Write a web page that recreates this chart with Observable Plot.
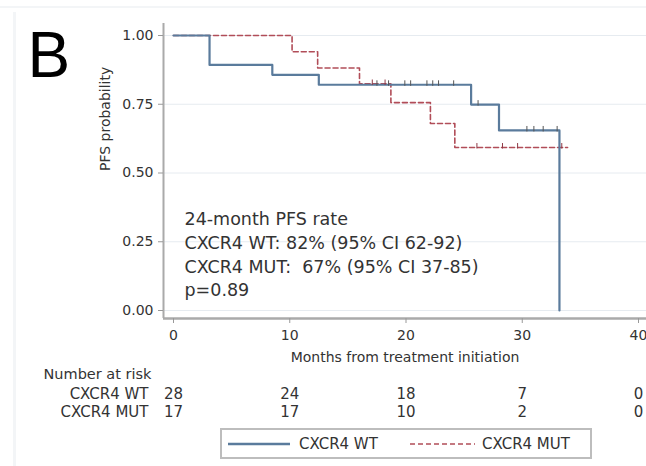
<!DOCTYPE html>
<html>
<head>
<meta charset="utf-8">
<script src="https://cdn.jsdelivr.net/npm/d3@7"></script>
<script src="https://cdn.jsdelivr.net/npm/@observablehq/plot@0.6"></script>
<style>
  html, body { margin: 0; padding: 0; background: #fff; overflow: hidden; }
  #wrap { position: relative; width: 646px; height: 466px; font-family: "DejaVu Sans", sans-serif; color: #333; overflow: hidden; }
  #frameTop { position: absolute; left: 0; top: 6px; width: 646px; height: 0; border-top: 2px solid #f3f5f7; }
  #frameLeft { position: absolute; left: 13px; top: 12px; width: 0; height: 454px; border-left: 3px solid #f3f5f7; }
  #main { position: absolute; left: 0; top: 0; }
  #risk { position: absolute; left: 0; top: 365px; }
  #legend { position: absolute; left: 220px; top: 428px; width: 368px; height: 27px; border: 2px solid #bdbdbd; background: #fff; }
  #legend svg { position: absolute; left: 0; top: 0; }
  #legend span { position: absolute; top: 5px; font-size: 15px; line-height: 18px; color: #333; white-space: nowrap; }
</style>
</head>
<body>
<div id="wrap">
  <div id="frameTop"></div>
  <div id="frameLeft"></div>
  <div id="main"></div>
  <div id="risk"></div>
  <div id="legend"></div>
</div>
<script>
// ---- data ----
const groups = ["CXCR4 WT", "CXCR4 MUT"];
const xTicks = [0, 10, 20, 30, 40];
const yTicks = [0, 0.25, 0.5, 0.75, 1];

// Kaplan-Meier step points (time in months, PFS probability after the step)
const wtTimes = [0, 3.1, 8.5, 12.5, 25.6, 28.0, 33.2];
const wtSurv  = [1, 0.893, 0.857, 0.821, 0.749, 0.655, 0];
const mutTimes = [0, 10.2, 12.4, 16.0, 18.7, 22.1, 24.2, 33.9];
const mutSurv  = [1, 0.941, 0.882, 0.824, 0.756, 0.68, 0.593, 0.593];

// censoring times
const wtCensor  = [17.5, 18.5, 19.9, 20.4, 21.8, 22.3, 22.8, 24.1, 26.2, 30.4, 31.0, 31.8, 33.0];
const mutCensor = [17.1, 18.2, 26.1, 28.3, 29.6, 33.4];

// number at risk
const riskTimes = [0, 10, 20, 30, 40];
const wtRisk  = [28, 24, 18, 7, 0];
const mutRisk = [17, 17, 10, 2, 0];

const annotLines = [
  "24-month PFS rate",
  "CXCR4 WT: 82% (95% CI 62-92)",
  "CXCR4 MUT:  67% (95% CI 37-85)",
  "p=0.89"
];
const xLabel = "Months from treatment initiation";
const yLabel = "PFS probability";
const panelLabel = "B";
const riskTitle = "Number at risk";

const blue = "#5a7b9c";
const red = "#b14d58";

// ---- build tables ----
const wtRows = wtTimes.map((t, i) => ({group: groups[0], t, s: wtSurv[i]}));
const mutRows = mutTimes.map((t, i) => ({group: groups[1], t, s: mutSurv[i]}));
function survAt(times, surv, t) { let s = 1; for (let i = 0; i < times.length; i++) if (times[i] <= t) s = surv[i]; return s; }
const wtCens = wtCensor.map(t => ({t, s: survAt(wtTimes, wtSurv, t)}));
const mutCens = mutCensor.map(t => ({t, s: survAt(mutTimes, mutSurv, t)}));
const riskRows = [
  ...riskTimes.map((t, i) => ({group: groups[0], t, n: wtRisk[i]})),
  ...riskTimes.map((t, i) => ({group: groups[1], t, n: mutRisk[i]}))
];

const censorSymbol = {
  draw(ctx, size) {
    const h = Math.sqrt(size / Math.PI) * 2;
    ctx.moveTo(0, -h);
    ctx.lineTo(0, h * 0.25);
  }
};

const font = '"DejaVu Sans", sans-serif';

const main = Plot.plot({
  width: 646, height: 365,
  marginLeft: 163, marginTop: 23, marginBottom: 47, marginRight: 0,
  style: {fontFamily: font, fontSize: "14px", color: "#333", background: "transparent", overflow: "visible"},
  x: {domain: [0, 40], insetLeft: 10, insetRight: 8},
  y: {domain: [0, 1], insetTop: 12, insetBottom: 8},
  marks: [
    Plot.gridY({ticks: yTicks, stroke: "#e6ebf0", strokeOpacity: 1}),
    Plot.ruleX([0], {dx: -10, stroke: "#aaaaaa", strokeWidth: 2}),
    Plot.ruleY([0], {dy: 8, stroke: "#aaaaaa", strokeWidth: 2.5}),
    Plot.axisY({ticks: yTicks, tickFormat: d3.format(".2f"), tickSize: 5, tickPadding: 5, label: null, stroke: "#999"}),
    Plot.axisX({ticks: xTicks, tickSize: 5, tickPadding: 7, label: null, stroke: "#999"}),
    Plot.line(mutRows, {x: "t", y: "s", curve: "step-after", stroke: red, strokeWidth: 1.6, strokeDasharray: "5,3"}),
    Plot.line(wtRows, {x: "t", y: "s", curve: "step-after", stroke: blue, strokeWidth: 2.2}),
    Plot.dot(wtCens, {x: "t", y: "s", symbol: censorSymbol, r: 2.2, fill: "none", stroke: "#555", strokeWidth: 1}),
    Plot.dot(mutCens, {x: "t", y: "s", symbol: censorSymbol, r: 2.2, fill: "none", stroke: "#8e3a46", strokeWidth: 1}),
    Plot.text([annotLines.join("\n")], {text: d => d, frameAnchor: "top-left", textAnchor: "start", lineAnchor: "top", dx: 21, dy: 185, fontSize: 17.5, lineHeight: 1.354, fill: "#333"}),
    Plot.text([xLabel], {text: d => d, frameAnchor: "bottom", lineAnchor: "middle", dy: 39, fontSize: 14, fill: "#333"}),
    Plot.text([yLabel], {text: d => d, frameAnchor: "left", dx: -58, rotate: -90, fontSize: 14, fill: "#333"}),
    Plot.text([panelLabel], {text: d => d, frameAnchor: "top-left", textAnchor: "start", lineAnchor: "middle", dx: -136, dy: 33, fontSize: 64, fontFamily: '"Liberation Sans", Arial, sans-serif', fill: "#000"})
  ]
});
document.getElementById("main").appendChild(main);

const risk = Plot.plot({
  width: 646, height: 60,
  marginLeft: 163, marginTop: 20, marginBottom: 4, marginRight: 0,
  style: {fontFamily: font, fontSize: "15px", color: "#333", background: "transparent", overflow: "visible"},
  x: {domain: [0, 40], insetLeft: 10, insetRight: 8, axis: null},
  y: {type: "band", domain: groups, padding: 0},
  marks: [
    Plot.axisY({tickSize: 0, tickPadding: 15, label: null, fontSize: 15}),
    Plot.text(riskRows, {x: "t", y: "group", text: d => String(d.n), fontSize: 15, fill: "#333"}),
    Plot.text([riskTitle], {text: d => d, frameAnchor: "top-left", textAnchor: "start", lineAnchor: "middle", dx: -120, dy: -11, fontSize: 14.5, fill: "#333"})
  ]
});
document.getElementById("risk").appendChild(risk);

// legend
const legend = document.getElementById("legend");
legend.innerHTML = `
<svg width="368" height="27">
  <line x1="6" x2="68" y1="14" y2="14" stroke="${blue}" stroke-width="2.5"></line>
  <line x1="188" x2="253" y1="14" y2="14" stroke="${red}" stroke-width="1.6" stroke-dasharray="5,3"></line>
</svg>
<span style="left:77px">${groups[0]}</span>
<span style="left:260px">${groups[1]}</span>`;
</script>
</body>
</html>
